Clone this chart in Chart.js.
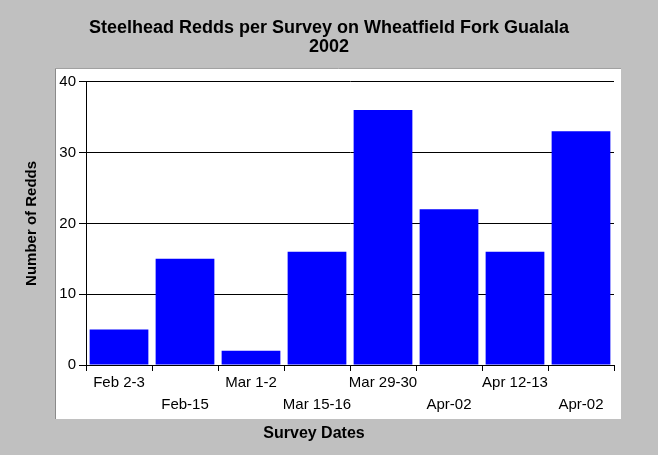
<!DOCTYPE html>
<html>
<head>
<meta charset="utf-8">
<script src="https://cdn.jsdelivr.net/npm/chart.js@4/dist/chart.umd.min.js"></script>
<style>
  html, body { margin: 0; padding: 0; background: #c0c0c0; }
  canvas { display: block; }
</style>
</head>
<body>
<canvas id="reddChart" width="658" height="455"></canvas>
<script>
// survey dates (two staggered label rows) and redd counts
const surveyDates = ['Feb 2-3', 'Feb-15', 'Mar 1-2', 'Mar 15-16', 'Mar 29-30', 'Apr-02', 'Apr 12-13', 'Apr-02'];
const reddCounts = [5, 15, 2, 16, 36, 22, 16, 33];
const yTicks = [0, 10, 20, 30, 40];

// odd labels on the first row, even ones on the second
const tickLabels = surveyDates.map((d, i) => i % 2 === 0 ? [d, ''] : ['', d]);

// white panel behind the plot + x axis title
const panelPlugin = {
  id: 'panel',
  beforeDraw(chart) {
    const { ctx, chartArea: a } = chart;
    const x0 = a.left - 31, y0 = a.top - 14, x1 = a.right + 7, y1 = a.bottom + 54;
    ctx.save();
    ctx.fillStyle = '#ffffff';
    ctx.fillRect(x0, y0, x1 - x0, y1 - y0);
    ctx.strokeStyle = '#8a8a8a';
    ctx.lineWidth = 1;
    ctx.beginPath();
    ctx.moveTo(x0 + 0.5, y1);
    ctx.lineTo(x0 + 0.5, y0 + 0.5);
    ctx.lineTo(x1, y0 + 0.5);
    ctx.stroke();
    ctx.restore();
  },
  afterDraw(chart) {
    const { ctx, chartArea: a } = chart;
    ctx.save();
    ctx.fillStyle = '#000';
    ctx.font = 'bold 16px Arial, "Liberation Sans", sans-serif';
    ctx.textAlign = 'center';
    ctx.textBaseline = 'middle';
    ctx.fillText('Survey Dates', (a.left + a.right) / 2 - 36, a.bottom + 69);
    ctx.restore();
  }
};

new Chart(document.getElementById('reddChart'), {
  type: 'bar',
  data: {
    labels: tickLabels,
    datasets: [{
      label: 'Redds',
      data: reddCounts,
      backgroundColor: '#0000ff',
      borderWidth: 0,
      barPercentage: 0.89,
      categoryPercentage: 1.0
    }]
  },
  options: {
    responsive: false,
    animation: false,
    devicePixelRatio: 1,
    layout: { padding: { left: 0, right: 0, top: 0, bottom: 35 } },
    plugins: {
      legend: { display: false },
      tooltip: { enabled: false },
      title: {
        display: true,
        text: ['Steelhead Redds per Survey on Wheatfield Fork Gualala', '2002'],
        color: '#000',
        font: { family: 'Arial, "Liberation Sans", sans-serif', size: 18, weight: 'bold', lineHeight: 1.05 },
        padding: { top: 19, bottom: 25 }
      }
    },
    scales: {
      x: {
        offset: true,
        grid: { display: true, drawOnChartArea: false, drawTicks: true, offset: true, tickLength: 6, color: '#000' },
        border: { display: true, color: '#000' },
        ticks: {
          color: '#000',
          maxRotation: 0,
          autoSkip: false,
          padding: 1,
          font: { family: 'Arial, "Liberation Sans", sans-serif', size: 15, lineHeight: 1.45 }
        },
        afterFit(scale) { scale.height = 55; }
      },
      y: {
        min: 0,
        max: 40,
        afterBuildTicks(scale) { scale.ticks = yTicks.map(v => ({ value: v })); },
        grid: { color: '#000', tickLength: 7, drawTicks: true },
        border: { display: true, color: '#000' },
        ticks: {
          color: '#000',
          padding: 3,
          font: { family: 'Arial, "Liberation Sans", sans-serif', size: 15 }
        },
        title: {
          display: true,
          text: 'Number of Redds',
          color: '#000',
          font: { family: 'Arial, "Liberation Sans", sans-serif', size: 15, weight: 'bold' },
          padding: { top: 23, bottom: 0 }
        },
        afterFit(scale) { scale.width = 86; }
      },
      // empty right-hand axis, only reserves the gray margin so the title stays centred
      yRight: {
        position: 'right',
        min: 0,
        max: 40,
        grid: { display: false },
        border: { display: false },
        ticks: { display: false },
        afterFit(scale) { scale.width = 44; }
      }
    }
  },
  plugins: [panelPlugin]
});
</script>
</body>
</html>
